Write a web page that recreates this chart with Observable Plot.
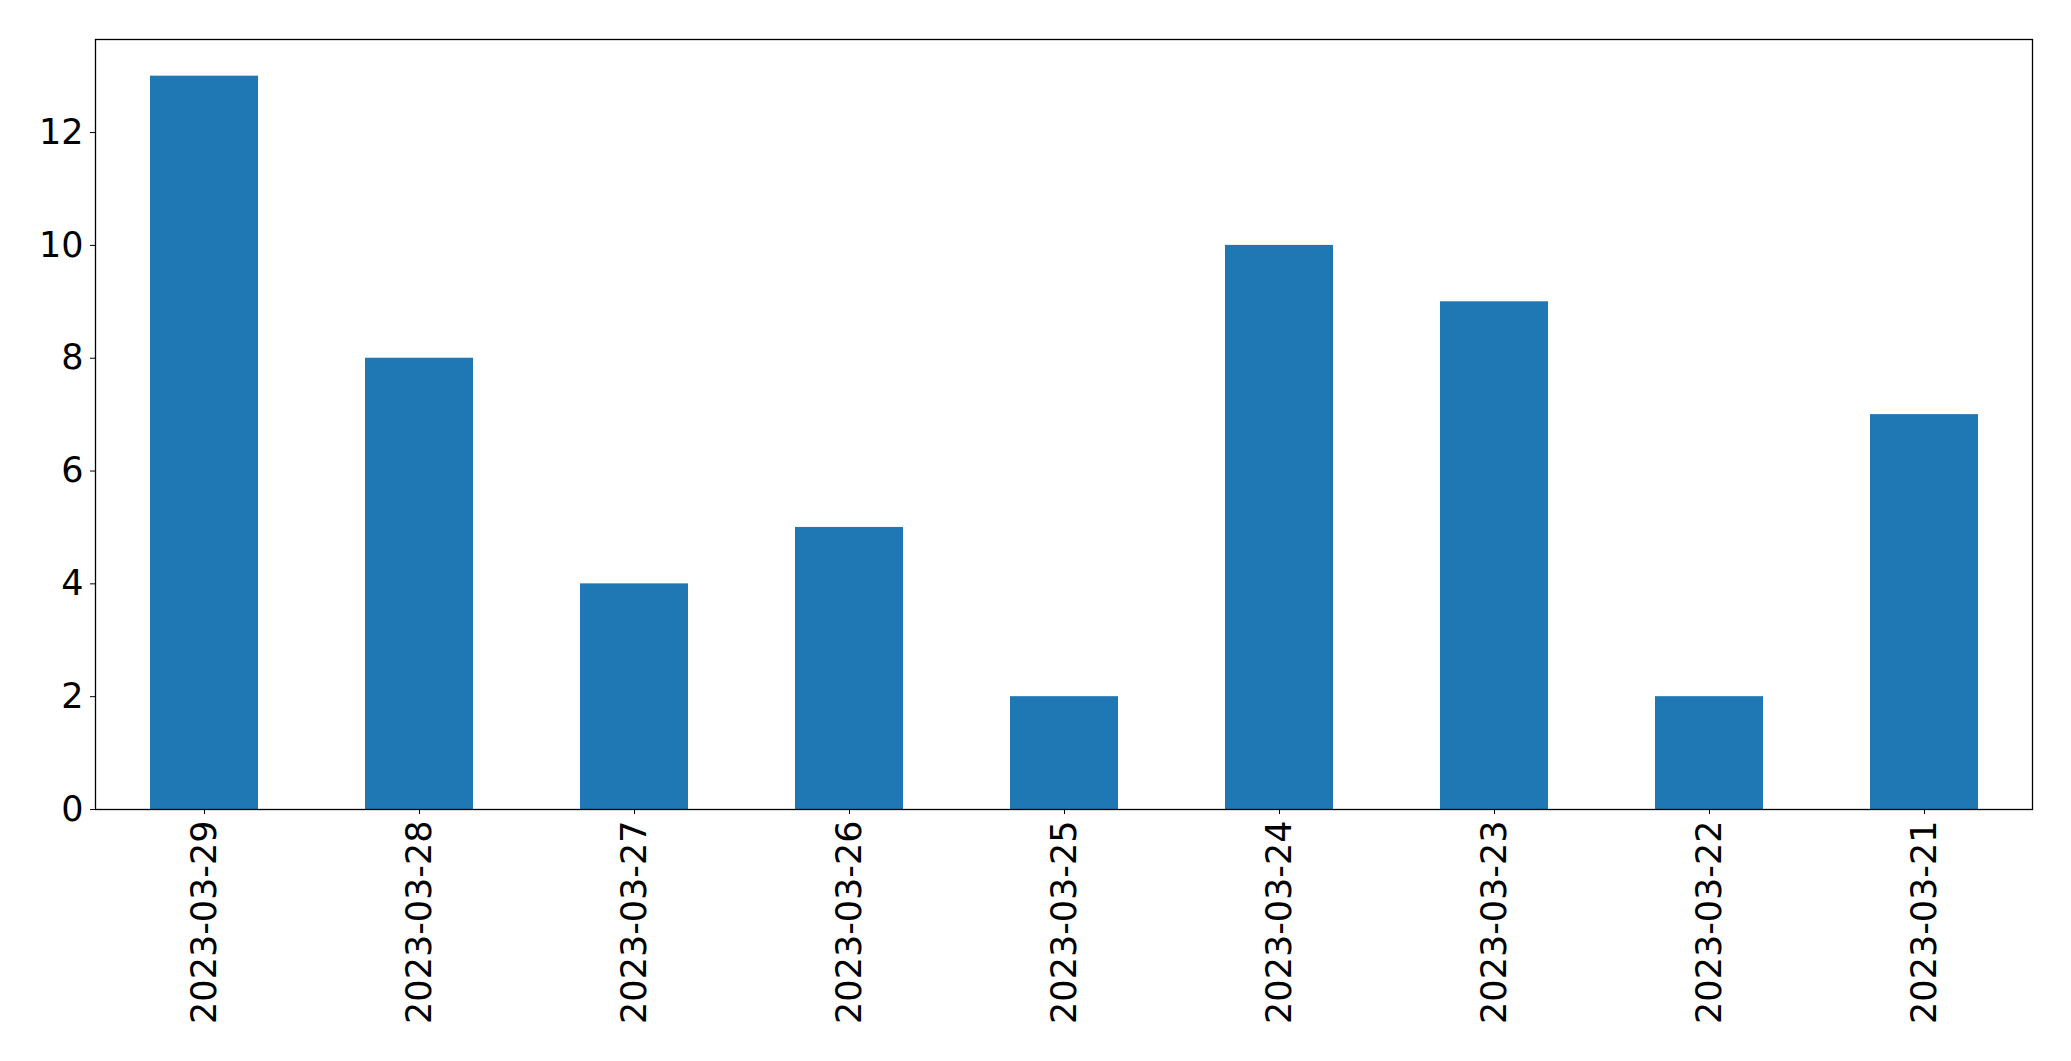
<!DOCTYPE html>
<html>
<head>
<meta charset="utf-8">
<script src="https://cdn.jsdelivr.net/npm/d3@7"></script>
<script src="https://cdn.jsdelivr.net/npm/@observablehq/plot@0.6"></script>
<style>
  html, body { margin: 0; padding: 0; background: #fff; }
  #chart svg { display: block; font-family: "DejaVu Sans", sans-serif; }
</style>
</head>
<body>
<div id="chart"></div>
<script>
const dates = ["2023-03-29", "2023-03-28", "2023-03-27", "2023-03-26", "2023-03-25", "2023-03-24", "2023-03-23", "2023-03-22", "2023-03-21"];
const counts = [13, 8, 4, 5, 2, 10, 9, 2, 7];
const yTicks = [0, 2, 4, 6, 8, 10, 12];

const data = dates.map((d, i) => ({date: d, count: counts[i]}));

const chart = Plot.plot({
  width: 2071,
  height: 1061,
  marginTop: 39,
  marginBottom: 252,
  marginLeft: 95,
  marginRight: 39,
  style: {fontFamily: "DejaVu Sans, sans-serif", background: "#fff", color: "#000"},
  x: {type: "band", domain: dates, paddingInner: 0.5, paddingOuter: 0.25, align: 0.5, label: null},
  y: {domain: [0, 13.65], label: null},
  marks: [
    Plot.barY(data, {x: "date", y: "count", fill: "#1f77b4"}),
    Plot.axisY({ticks: yTicks, tickSize: 5, tickPadding: 7, fontSize: 35, label: null, stroke: "#000", fill: "#000", tickFormat: d => String(d)}),
    Plot.axisX({tickRotate: -90, tickSize: 5, tickPadding: 6, fontSize: 35, label: null, stroke: "#000", fill: "#000"}),
    Plot.frame({stroke: "#000", strokeWidth: 1.3})
  ]
});
document.getElementById("chart").appendChild(chart);
</script>
</body>
</html>
